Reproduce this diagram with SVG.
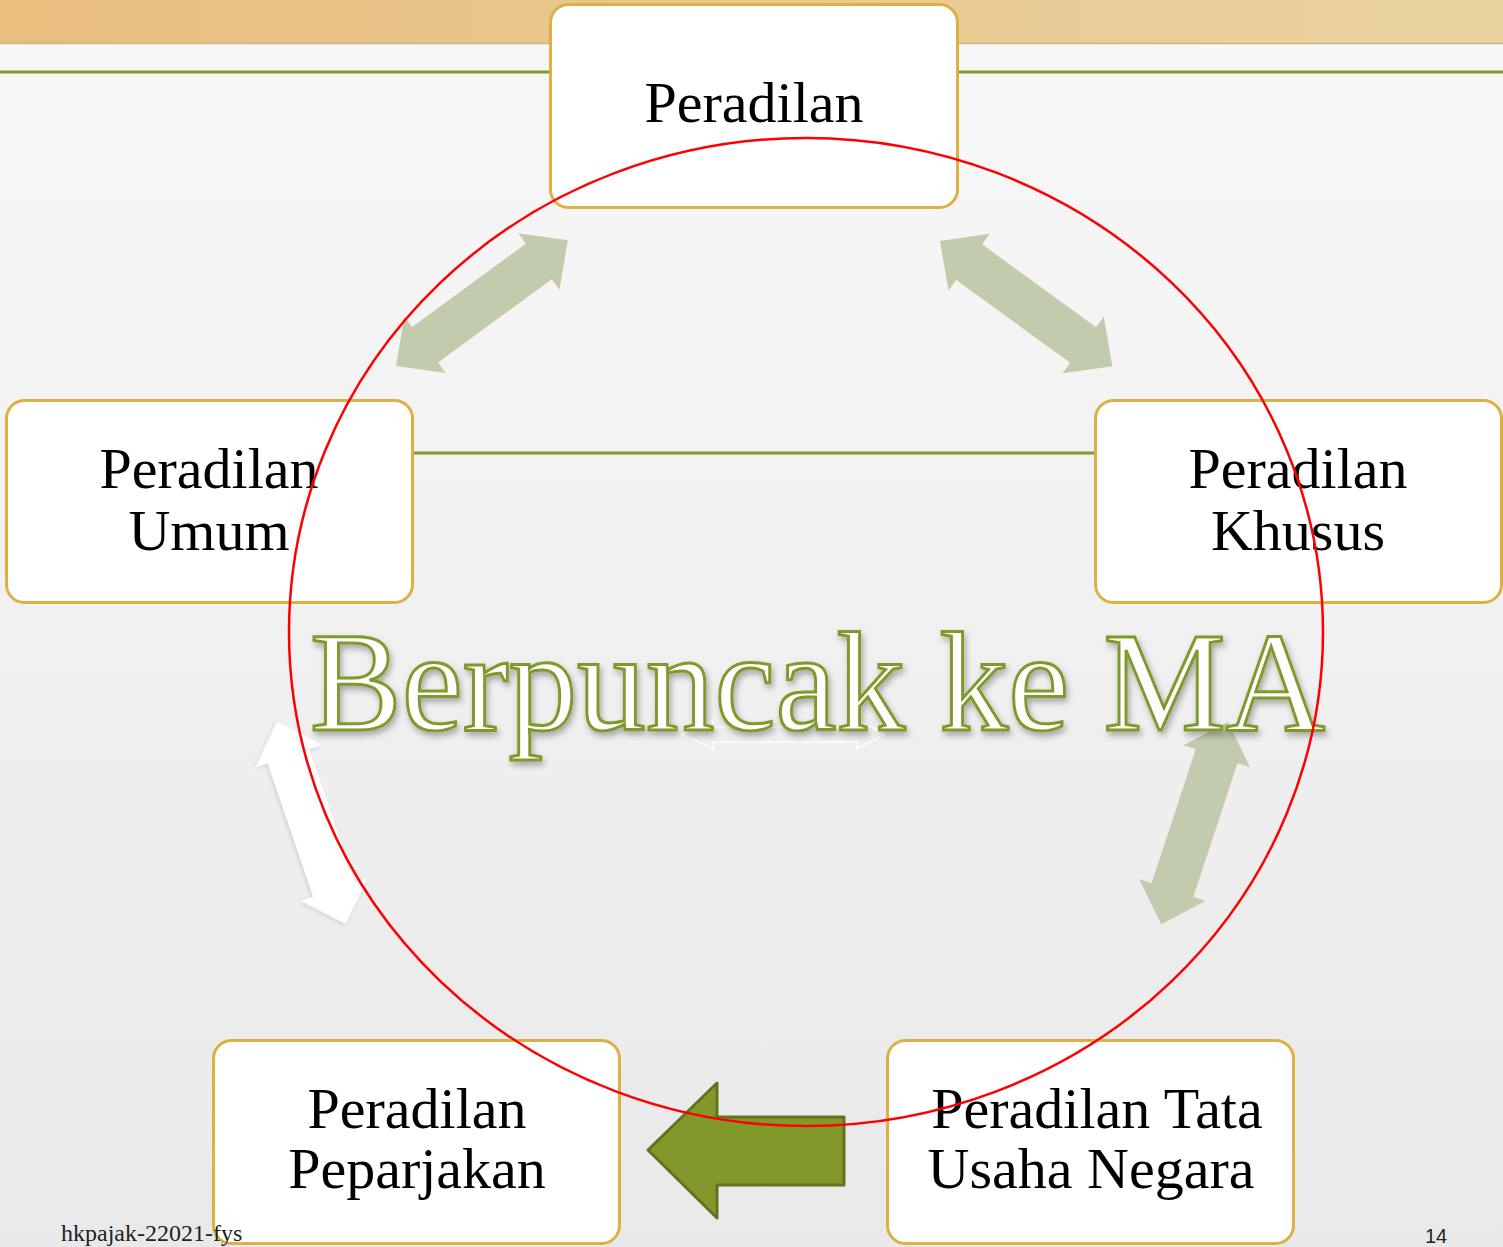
<svg xmlns="http://www.w3.org/2000/svg" width="1503" height="1247" viewBox="0 0 1503 1247">
<defs>
<linearGradient id="bg" x1="0" y1="0" x2="0" y2="1">
<stop offset="0" stop-color="#f8f8f8"/><stop offset="1" stop-color="#e9e9e9"/>
</linearGradient>
<linearGradient id="bar" x1="0" y1="0" x2="1" y2="0">
<stop offset="0" stop-color="#e9bd7e"/><stop offset="0.5" stop-color="#e8c98f"/><stop offset="1" stop-color="#ead3a0"/>
</linearGradient>
<filter id="sh" x="-5%" y="-20%" width="110%" height="140%">
<feDropShadow dx="2" dy="4" stdDeviation="3" flood-color="#000" flood-opacity="0.3"/>
</filter>
<filter id="sh2" x="-20%" y="-20%" width="140%" height="140%">
<feDropShadow dx="1" dy="2" stdDeviation="2" flood-color="#000" flood-opacity="0.12"/>
</filter>
<polygon id="dbl" points="0,0 36,-35 36,-22 177,-22 177,-35 213,0 177,35 177,22 36,22 36,35"/>
</defs>
<style>
.box{fill:#ffffff;stroke:#dcb043;stroke-width:3}
.lbl{font-family:"Liberation Serif","Times New Roman",serif;font-size:58px;fill:#000;text-anchor:middle}
.sage{fill:#c3cbad}
.gline{stroke:#7e9b35;stroke-width:3;fill:none}
</style>
<rect width="1503" height="1247" fill="url(#bg)"/>
<rect width="1503" height="43" fill="url(#bar)"/>
<line x1="0" y1="43.5" x2="1503" y2="43.5" stroke="#cdb38c" stroke-width="1.5"/>
<g id="lines">
<line class="gline" x1="0" y1="72" x2="552" y2="72"/>
<line class="gline" x1="956" y1="72" x2="1503" y2="72"/>
<line class="gline" x1="412" y1="453" x2="1095" y2="453"/>
</g>
<g id="connectors">
<use href="#dbl" class="sage" transform="translate(396,366) rotate(-36.2)"/>
<use href="#dbl" class="sage" transform="translate(940,241) rotate(36)"/>
<use href="#dbl" class="sage" transform="translate(1228,722) rotate(108.3)"/>
<use href="#dbl" fill="#ffffff" filter="url(#sh2)" transform="translate(277,722) rotate(71.2)"/>
<polygon points="681,734 713,749 713,742 857,742 857,749 885,734 857,720 857,727 713,727 713,720" fill="none" stroke="#ffffff" stroke-width="1.5" opacity="0.9"/>
<polygon points="648,1150 717,1083 717,1117 844,1117 844,1185 717,1185 717,1218" fill="#83982b" stroke="#62721f" stroke-width="3" stroke-linejoin="round"/>
</g>
<g id="node-top">
<rect class="box" x="550.5" y="4.5" width="407" height="203" rx="18"/>
<text class="lbl" x="754" y="122">Peradilan</text>
</g>
<g id="node-umum">
<rect class="box" x="6.5" y="400.5" width="406" height="202" rx="18"/>
<text class="lbl" x="209" y="488">Peradilan</text>
<text class="lbl" x="209" y="550">Umum</text>
</g>
<g id="node-khusus">
<rect class="box" x="1095.5" y="400.5" width="406" height="202" rx="18"/>
<text class="lbl" x="1298" y="488">Peradilan</text>
<text class="lbl" x="1298" y="550">Khusus</text>
</g>
<g id="node-pajak">
<rect class="box" x="213.5" y="1040.5" width="406" height="203" rx="18"/>
<text class="lbl" x="417" y="1128">Peradilan</text>
<text class="lbl" x="417" y="1188">Peparjakan</text>
</g>
<g id="node-tun">
<rect class="box" x="887.5" y="1040.5" width="406" height="203" rx="18"/>
<text class="lbl" x="1097" y="1128">Peradilan Tata</text>
<text class="lbl" x="1091" y="1188">Usaha Negara</text>
</g>
<text x="310" y="730" textLength="1015" lengthAdjust="spacingAndGlyphs" font-family="Liberation Serif, Times New Roman, serif" font-size="142" fill="#ffffff" stroke="#7f9a2b" stroke-width="3" filter="url(#sh)">Berpuncak ke MA</text>
<ellipse cx="806" cy="632" rx="517" ry="494" fill="none" stroke="#ff0000" stroke-width="2.5"/>
<text x="61" y="1241" font-family="Liberation Serif, Times New Roman, serif" font-size="24" fill="#222">hkpajak-22021-fys</text>
<text x="1425" y="1243" font-family="Liberation Sans, Arial, sans-serif" font-size="20" fill="#222">14</text>
</svg>
